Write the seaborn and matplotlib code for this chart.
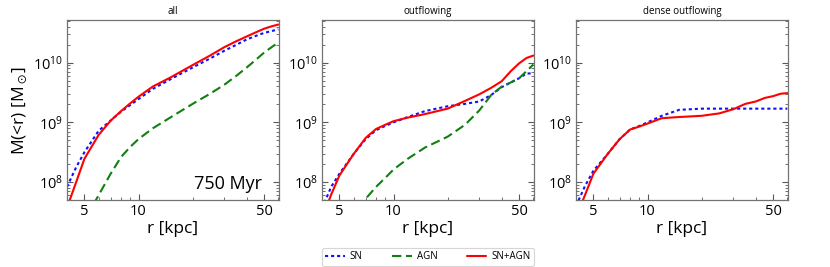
import numpy as np
import pandas as pd
import matplotlib
matplotlib.use("Agg")
import matplotlib.pyplot as plt
import matplotlib.ticker as mticker
from matplotlib.lines import Line2D
import seaborn as sns

# ---------------- data (log10 of enclosed mass) ----------------
r_kpc = [4, 4.5, 5, 6, 7, 8, 9, 10, 12, 15, 20, 25, 30, 35, 40, 45, 50, 55, 60]

all_sn     = [7.92, 8.25, 8.50, 8.86, 9.03, 9.18, 9.29, 9.39, 9.56, 9.72, 9.92, 10.07, 10.20, 10.30, 10.39, 10.45, 10.50, 10.53, 10.56]
all_agn    = [6.80, 7.10, 7.35, 7.78, 8.14, 8.42, 8.59, 8.72, 8.90, 9.08, 9.31, 9.48, 9.63, 9.78, 9.92, 10.05, 10.17, 10.26, 10.34]
all_snagn  = [7.57, 8.00, 8.39, 8.79, 9.03, 9.19, 9.32, 9.43, 9.60, 9.75, 9.96, 10.12, 10.26, 10.36, 10.44, 10.51, 10.57, 10.61, 10.64]

out_sn     = [7.56, 7.92, 8.14, 8.47, 8.72, 8.87, 8.94, 9.00, 9.09, 9.19, 9.27, 9.31, 9.35, 9.46, 9.59, 9.67, 9.74, 9.82, 9.82]
out_agn    = [6.90, 7.20, 7.40, 7.50, 7.72, 7.92, 8.07, 8.21, 8.39, 8.58, 8.76, 8.96, 9.20, 9.46, 9.60, 9.67, 9.74, 9.86, 9.97]
out_snagn  = [7.38, 7.79, 8.11, 8.47, 8.74, 8.89, 8.96, 9.02, 9.08, 9.14, 9.23, 9.36, 9.47, 9.58, 9.69, 9.86, 9.99, 10.08, 10.12]

dense_sn    = [7.60, 7.94, 8.19, 8.47, 8.72, 8.88, 8.94, 9.00, 9.11, 9.21, 9.23, 9.23, 9.23, 9.23, 9.23, 9.23, 9.23, 9.23, 9.23]
dense_snagn = [7.41, 7.79, 8.14, 8.47, 8.72, 8.88, 8.93, 8.98, 9.07, 9.09, 9.11, 9.15, 9.22, 9.31, 9.35, 9.41, 9.44, 9.48, 9.49]

panel_titles = ["all", "outflowing", "dense outflowing"]
series_names = ["SN", "AGN", "SN+AGN"]
time_label = "750 Myr"
x_major = [5, 10, 50]
y_major = [1e8, 1e9, 1e10]

panels = {
    "all": {"SN": all_sn, "AGN": all_agn, "SN+AGN": all_snagn},
    "outflowing": {"SN": out_sn, "AGN": out_agn, "SN+AGN": out_snagn},
    "dense outflowing": {"SN": dense_sn, "SN+AGN": dense_snagn},
}

rows = []
for p, ser in panels.items():
    for s, vals in ser.items():
        for r, v in zip(r_kpc, vals):
            rows.append({"panel": p, "series": s, "r": r, "M": 10.0 ** v})
df = pd.DataFrame(rows)

# ---------------- style ----------------
sns.set_style("ticks")
plt.rcParams["font.family"] = ["Open Sans", "DejaVu Sans"]
plt.rcParams["font.weight"] = "medium"
plt.rcParams["mathtext.fontset"] = "custom"
plt.rcParams["mathtext.rm"] = "Open Sans"
plt.rcParams["mathtext.it"] = "Open Sans:italic"
plt.rcParams["mathtext.default"] = "regular"
for key in ["text.color", "axes.labelcolor", "xtick.labelcolor", "ytick.labelcolor"]:
    plt.rcParams[key] = "black"

palette = {"SN": "#1010ff", "AGN": "#108010", "SN+AGN": "#ff0000"}
dashes = {"SN": (1.5, 1.4), "AGN": (4.5, 2.2), "SN+AGN": ""}

fig = plt.figure(figsize=(8.3, 2.67), dpi=100)
lefts = [67 / 830, 322 / 830, 576 / 830]
w = 212 / 830
b = 1 - 200 / 267
h = 180 / 267
axes = [fig.add_axes([l, b, w, h]) for l in lefts]

for ax, title in zip(axes, panel_titles):
    sub = df[df["panel"] == title]
    order = [s for s in series_names if s in sub["series"].unique()]
    sns.lineplot(data=sub, x="r", y="M", hue="series", style="series",
                 palette=palette, dashes=dashes, hue_order=order, style_order=order,
                 linewidth=1.5, ax=ax, legend=False, sort=True, estimator=None)
    ax.set_xscale("log")
    ax.set_yscale("log")
    ax.set_xlim(4, 60.5)
    ax.set_ylim(5e7, 5.2e10)
    ax.xaxis.set_major_locator(mticker.FixedLocator(x_major))
    ax.xaxis.set_major_formatter(mticker.FixedFormatter([str(v) for v in x_major]))
    ax.xaxis.set_minor_locator(mticker.FixedLocator([4, 6, 7, 8, 9, 20, 30, 40, 60]))
    ax.xaxis.set_minor_formatter(mticker.NullFormatter())
    ax.yaxis.set_major_locator(mticker.FixedLocator(y_major))
    ax.yaxis.set_major_formatter(mticker.FixedFormatter([r"$10^{8}$", r"$10^{9}$", r"$10^{10}$"]))
    ax.yaxis.set_minor_locator(mticker.LogLocator(base=10, subs=np.arange(2, 10)))
    ax.yaxis.set_minor_formatter(mticker.NullFormatter())
    ax.tick_params(which="both", direction="in", left=True, right=True, bottom=True, top=False,
                   color="0.35", labelsize=10.5, pad=3)
    ax.tick_params(which="major", length=4, width=0.8)
    ax.tick_params(which="minor", length=2.5, width=0.6)
    for sp in ax.spines.values():
        sp.set_color("0.45")
        sp.set_linewidth(0.9)
    ax.set_title(title, fontsize=7, pad=4)
    ax.set_xlabel("r [kpc]", fontsize=12.5, labelpad=1)
    ax.set_ylabel("")

axes[0].set_ylabel(r"M(<r) [M$_\odot$]", fontsize=12.5, labelpad=2)
axes[0].text(0.92, 0.04, time_label, transform=axes[0].transAxes, ha="right", va="bottom", fontsize=13)

handles = [Line2D([], [], color=palette[s], lw=1.5,
                  dashes=dashes[s] if dashes[s] else (None, None), linestyle="-" if not dashes[s] else "--")
           for s in series_names]
leg = axes[1].legend(handles, series_names, loc="upper center", bbox_to_anchor=(0.0, -0.265, 1.0, 0.0),
                     mode="expand", ncol=3, fontsize=7, frameon=True, handlelength=2.0,
                     borderpad=0.35, handletextpad=0.5, borderaxespad=0)
leg.get_frame().set_edgecolor("0.8")
leg.get_frame().set_linewidth(0.8)

fig.savefig("out.png", dpi=100)
